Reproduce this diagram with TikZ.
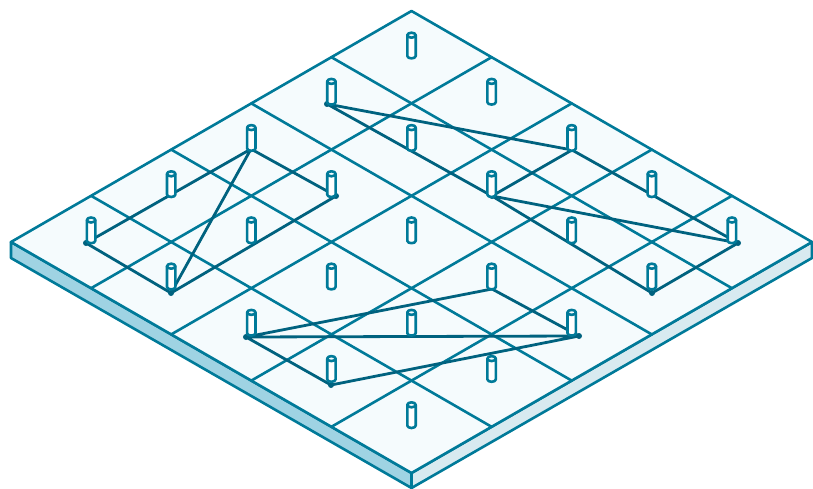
\documentclass[tikz,border=0pt]{standalone}
\usepackage{tikz}

\definecolor{gridblue}{HTML}{007A99}
\definecolor{wireblue}{HTML}{00627F}
\definecolor{topface}{HTML}{F5FBFD}
\definecolor{leftface}{HTML}{9FD3E3}
\definecolor{rightface}{HTML}{D8EAF0}

\tikzset{
  gridline/.style={draw=gridblue, line width=2.6pt, line join=round, line cap=round},
  wire/.style={draw=wireblue, line width=2.8pt, line join=round, line cap=round},
  wiredot/.style={fill=wireblue},
  pin/.pic={
    \draw[gridline, fill=white] (-4.2,-22) -- (-4.2,-1.2) arc[start angle=180, end angle=0, x radius=4.2, y radius=2.4] -- (4.2,-22) -- cycle;
    \draw[gridline, fill=topface] (0,-22) ellipse[x radius=4.2, y radius=2.5];
  }
}

\begin{document}
\begin{tikzpicture}[x=1pt, y=-1pt]
\useasboundingbox (0,0) rectangle (813,489);
% board
\coordinate (top) at (411.5,11);
\coordinate (right) at (812,242);
\coordinate (bottom) at (411.5,473);
\coordinate (left) at (11,242);
\coordinate (rightlow) at (812,258);
\coordinate (bottomlow) at (411.5,488);
\coordinate (leftlow) at (11,258);
\filldraw[gridline, fill=leftface] (left) -- (bottom) -- (bottomlow) -- (leftlow) -- cycle;
\filldraw[gridline, fill=rightface] (right) -- (bottom) -- (bottomlow) -- (rightlow) -- cycle;
\filldraw[gridline, fill=topface] (top) -- (right) -- (bottom) -- (left) -- cycle;
% grid
\foreach \k in {1,...,4} {
  \draw[gridline] ({411.5+\k*80.1},{11+\k*46.2}) -- ({11+\k*80.1},{242+\k*46.2});
  \draw[gridline] ({411.5-\k*80.1},{11+\k*46.2}) -- ({812-\k*80.1},{242+\k*46.2});
}
% wires, left group
\coordinate (la) at (86,243);
\coordinate (lb) at (251,149);
\coordinate (lc) at (336,196);
\coordinate (ld) at (171,293);
\draw[wire] (lb) -- (lc) -- (ld) -- (lb) -- (la) -- (ld);
% wires, right group
\coordinate (ra) at (327,104);
\coordinate (rb) at (572,150);
\coordinate (rc) at (738,243);
\coordinate (rd) at (652,293);
\coordinate (re) at (492,196);
\draw[wire] (ra) -- (rb) -- (rc) -- (rd) -- (re) -- (ra);
\draw[wire] (rb) -- (re) -- (rc);
% wires, bottom group
\coordinate (ba) at (246,337);
\coordinate (bb) at (492,289);
\coordinate (bc) at (579,336);
\coordinate (bd) at (331,385);
\draw[wire] (ba) -- (bb) -- (bc) -- (ba) -- (bd) -- (bc);
% wire ends
\foreach \p in {la,lc,ld,ra,rc,rd,re,ba,bc,bd} {
  \fill[wiredot] (\p) circle[radius=3pt];
}
% pins
\foreach \i in {0,...,4} {
  \foreach \j in {0,...,4} {
    \pic at ({411.5+(\i-\j)*80.1},{57.2+(\i+\j)*46.2}) {pin};
  }
}
\end{tikzpicture}
\end{document}
